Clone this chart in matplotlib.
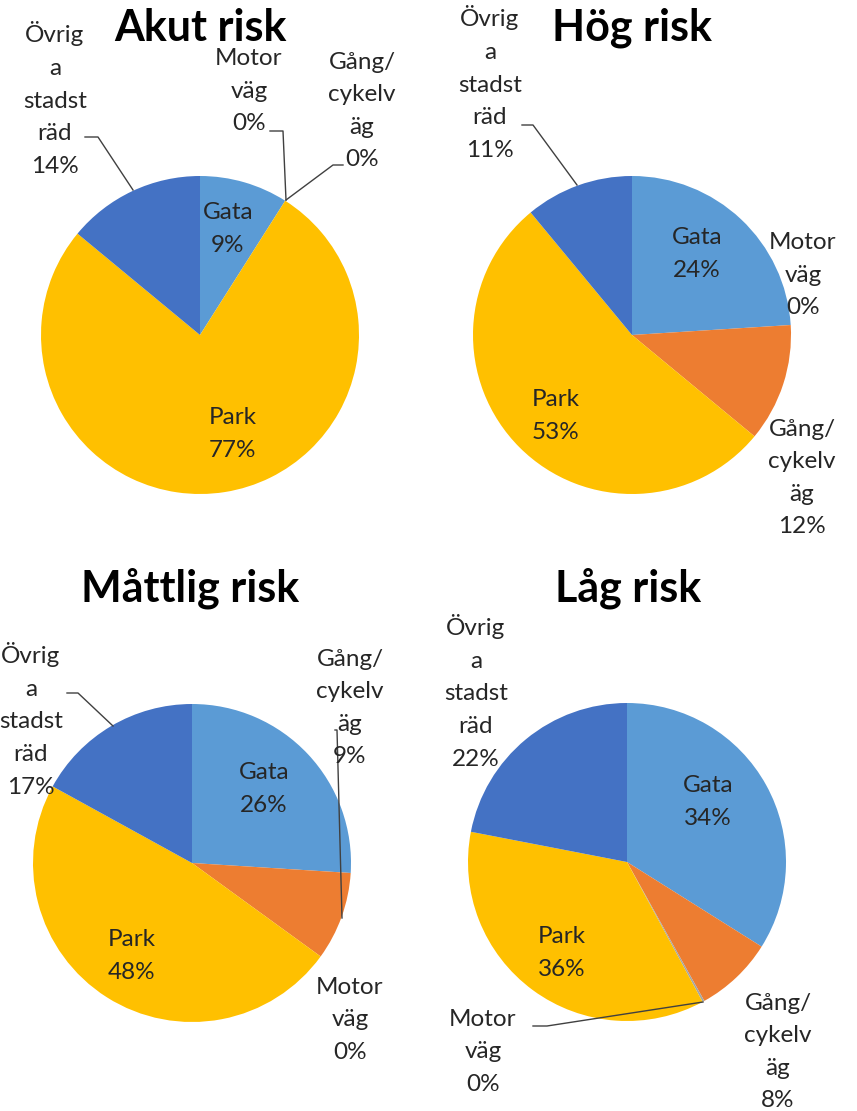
import numpy as np
import matplotlib
matplotlib.use("Agg")
from matplotlib import pyplot as plt

plt.rcParams['font.family'] = ['Lato', 'DejaVu Sans']

W, H = 857, 1111

# category order as in the Excel source
categories = ["Gata", "Gång/cykelväg", "Motorväg", "Park", "Övriga stadsträd"]
# wrapped the same way as the original labels
wrapped = ["Gata", "Gång/\ncykelv\näg", "Motor\nväg", "Park", "Övrig\na\nstadst\nräd"]
colors = ["#5B9BD5", "#ED7D31", "#A5A5A5", "#FFC000", "#4472C4"]

titles = ["Akut risk", "Hög risk", "Måttlig risk", "Låg risk"]
akut = [9, 0, 0, 77, 14]
hog = [24, 12, 0, 53, 11]
mattlig = [26, 9, 0, 48, 17]
lag = [34, 8, 0.2, 36, 22]
series = [akut, hog, mattlig, lag]

# layout in image pixels (y from top)
centers = [(200, 335), (632, 335), (192, 863), (627, 862)]
radius = 159
title_pos = [(200, 28), (632, 28), (190, 588), (628, 588)]

# label centre per category, per chart
label_pos = [
    [(228, 229), (362, 111), (249, 91), (233, 434), (55, 99)],
    [(697, 254), (802, 478), (803, 275), (556, 416), (490, 83)],
    [(264, 789), (350, 708), (350, 1020), (132, 956), (31, 720)],
    [(708, 802), (778, 1052), (483, 1052), (562, 953), (476, 692)],
]

# leader lines (image px)
leaders = [
    [[(85, 137), (98, 137), (133, 190)],
     [(270, 131), (283, 131), (286, 200)],
     [(343, 165), (333, 165), (286, 200)]],
    [[(522, 125), (533, 125), (577, 185)]],
    [[(67, 693), (78, 693), (113, 726)],
     [(335, 730), (337, 730), (342, 918)]],
    [[(533, 1026), (547, 1026), (703, 1002)]],
]

fig = plt.figure(figsize=(W / 100, H / 100), dpi=100)
ax = fig.add_axes([0, 0, 1, 1])

for k, vals in enumerate(series):
    cx, cy = centers[k]
    ax.pie(vals, colors=colors, startangle=90, counterclock=False,
           center=(cx, H - cy), radius=radius,
           wedgeprops=dict(linewidth=0))
    tx, ty = title_pos[k]
    ax.text(tx, H - ty, titles[k], ha='center', va='center',
            fontsize=31, fontweight='bold', color='black')
    for i, v in enumerate(vals):
        lx, ly = label_pos[k][i]
        ax.text(lx, H - ly, f"{wrapped[i]}\n{v:.0f}%", ha='center', va='center',
                fontsize=17.5, color='#262626', linespacing=1.68)
    for pts in leaders[k]:
        xs = [p[0] for p in pts]
        ys = [H - p[1] for p in pts]
        ax.plot(xs, ys, color='#404040', lw=1)

ax.set_xlim(0, W)
ax.set_ylim(0, H)
ax.set_aspect('equal')
ax.axis('off')

fig.savefig("out.png", dpi=100)
